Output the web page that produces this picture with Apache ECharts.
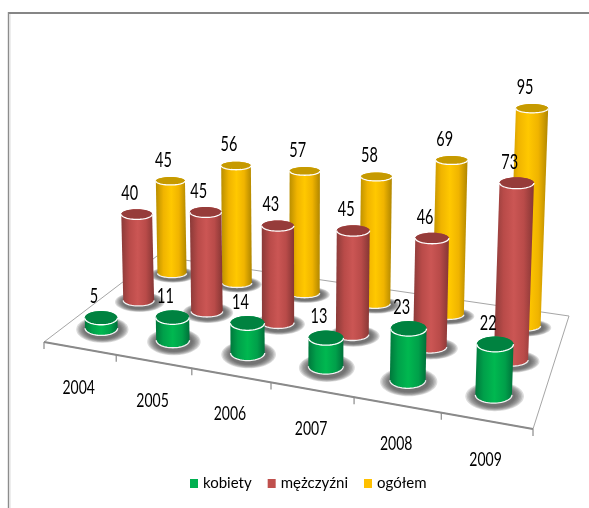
<!DOCTYPE html>
<html><head><meta charset="utf-8">
<style>html,body{margin:0;padding:0;background:#fff}#c{width:589px;height:508px}</style>
<script src="https://cdn.jsdelivr.net/npm/echarts@6/dist/echarts.min.js"></script>
</head><body><div id="c"></div>
<script>
const years = ['2004','2005','2006','2007','2008','2009'];
const kobiety = [5,11,14,13,23,22];
const mezczyzni = [40,45,43,45,46,73];
const ogolem = [45,56,57,58,69,95];

const FONT = 'Lato,"Open Sans",sans-serif';
const P0=[44,342],P1=[533,429],P2=[569,316],P3=[157,256];
const GRID={left:44,top:100,width:489,height:243.6};
const sx=P0[0]-P1[0]+P2[0]-P3[0], sy=P0[1]-P1[1]+P2[1]-P3[1];
const dx1=P1[0]-P2[0],dx2=P3[0]-P2[0],dy1=P1[1]-P2[1],dy2=P3[1]-P2[1];
const den=dx1*dy2-dx2*dy1;
const G=(sx*dy2-dx2*sy)/den,H=(dx1*sy-sx*dy1)/den;
function proj(u,v){
  const w=1+G*u+H*v;
  return {x:(P0[0]+(P1[0]*(1+G)-P0[0])*u+(P3[0]*(1+H)-P0[0])*v)/w,
          y:(P0[1]+(P1[1]*(1+G)-P0[1])*u+(P3[1]*(1+H)-P0[1])*v)/w,s:1/w};
}
function arc(cx,cy,rx,ry,a0,a1){
  const pts=[];const n=28;
  for(let i=0;i<=n;i++){const a=a0+(a1-a0)*i/n;pts.push([cx+rx*Math.cos(a),cy+ry*Math.sin(a)]);}
  return pts;
}
function stops(a){return a.map(s=>({offset:s[0],color:s[1]}));}
const SHADOW_STEPS=[1.6,1.52,1.44,1.36,1.28,1.2,1.12];
const SHADES={
  green:{side:[[0,'#00783c'],[.22,'#00a04a'],[.5,'#00b850'],[.78,'#00a04a'],[1,'#00703a']],top:'#008240'},
  red:{side:[[0,'#8a3a38'],[.25,'#b94b49'],[.5,'#cb5654'],[.75,'#b94b49'],[1,'#853634']],top:'#963c3a'},
  yellow:{side:[[0,'#b98e00'],[.25,'#f0b400'],[.5,'#ffc800'],[.75,'#f0b400'],[1,'#b08600']],top:'#c69a00'}
};
function cylinder(depth,ratio,shade,hf,dx){
  return function(params,api){
    const c=api.coord([api.value(0),0]);
    const val=api.value(1);
    const u=(c[0]-GRID.left)/GRID.width;
    const p=proj(u,depth);
    const rx=16.8*p.s;
    const ryT=rx*ratio, ryB=rx*(ratio+0.03);
    const h=api.size([0,val])[1]*Math.pow(p.s,1.1)*hf;
    const bx=p.x+dx,by=p.y;
    const tx=bx+(bx-291)*0.00015*h, ty=by-h;
    const bottom=arc(bx,by,rx,ryB,0,Math.PI);
    const top=arc(tx,ty,rx,ryT,Math.PI,2*Math.PI);
    const sh=SHADES[shade];
    const shadow=SHADOW_STEPS.map(t=>({type:'ellipse',shape:{cx:bx+1,cy:by+1.5,rx:rx*t,ry:ryB*(t+.2)},
       style:{fill:'rgba(80,80,80,.2)'}}));
    return {type:'group',children:shadow.concat([
      {type:'polygon',shape:{points:bottom.concat(top)},
       style:{fill:{type:'linear',x:0,y:0,x2:1,y2:0,colorStops:stops(sh.side)}}},
      {type:'polyline',shape:{points:bottom},style:{fill:null,stroke:'#f2f2f2',lineWidth:1.3}},
      {type:'ellipse',shape:{cx:tx,cy:ty,rx:rx,ry:ryT},style:{fill:sh.top}},
      {type:'polyline',shape:{points:arc(tx,ty,rx,ryT,0,Math.PI)},style:{fill:null,stroke:'#fff',lineWidth:1.3}},
      {type:'text',x:tx-7,y:ty-21,scaleY:1.4,style:{x:0,y:0,text:String(val),fill:'#000',font:'14.5px '+FONT,align:'center',verticalAlign:'middle'}}
    ])};
  };
}
function floorItem(params,api){
  const i=api.value(0);
  const kids=[];
  if(i===0){
    kids.push({type:'polygon',shape:{points:[P0,P1,P2,P3]},style:{fill:'#fff',stroke:'#a6a6a6',lineWidth:1}});
    kids.push({type:'line',shape:{x1:P0[0],y1:P0[1],x2:P1[0],y2:P1[1]},style:{stroke:'#8a8a8a',lineWidth:2}});
    kids.push({type:'line',shape:{x1:P0[0],y1:P0[1],x2:P0[0],y2:P0[1]+7},style:{stroke:'#8a8a8a',lineWidth:1.2}});
  }
  const c=api.coord([i,0]);
  const u=(c[0]-GRID.left)/GRID.width;
  const b=proj(u+api.size([1,0])[0]/GRID.width/2,0);
  kids.push({type:'line',shape:{x1:b.x,y1:b.y,x2:b.x,y2:b.y+7},style:{stroke:'#8a8a8a',lineWidth:1.2}});
  const m=proj(u,0);
  kids.push({type:'text',x:m.x-1,y:m.y+39,scaleY:1.38,style:{x:0,y:0,text:years[i],fill:'#000',font:'14px '+FONT,align:'center',verticalAlign:'middle'}});
  return {type:'group',children:kids};
}
const rows=a=>a.map((v,i)=>[i,v]);
const chart=echarts.init(document.getElementById('c'));
chart.setOption({
  animation:false,
  backgroundColor:'#fff',
  grid:GRID,
  xAxis:{type:'category',data:years,show:false},
  yAxis:{type:'value',min:0,max:100,show:false},
  legend:{data:['kobiety','mężczyźni','ogółem'],left:185,top:471,itemWidth:8,itemHeight:9,itemGap:16,icon:'rect',
    textStyle:{fontFamily:FONT,fontSize:15,color:'#000'}},
  graphic:[
    {type:'line',shape:{x1:8,y1:13,x2:589,y2:13},style:{stroke:'#868686',lineWidth:2}},
    {type:'line',shape:{x1:8.5,y1:12,x2:8.5,y2:508},style:{stroke:'#8c8c8c',lineWidth:1.4}},
    {type:'line',shape:{x1:10,y1:14,x2:10,y2:508},style:{stroke:'#dcdcdc',lineWidth:1}}
  ],
  series:[
    {name:'floor',type:'custom',renderItem:floorItem,data:rows(years.map(()=>0)),encode:{x:0,y:1},silent:true,z:1},
    {name:'ogółem',type:'custom',renderItem:cylinder(.83,.27,'yellow',.985,0),data:rows(ogolem),encode:{x:0,y:1},itemStyle:{color:'#ffc000'},silent:true,z:2},
    {name:'mężczyźni',type:'custom',renderItem:cylinder(.5,.33,'red',.97,0),data:rows(mezczyzni),encode:{x:0,y:1},itemStyle:{color:'#c0504d'},silent:true,z:3},
    {name:'kobiety',type:'custom',renderItem:cylinder(.2,.42,'green',.86,-3.3),data:rows(kobiety),encode:{x:0,y:1},itemStyle:{color:'#00b050'},silent:true,z:4}
  ]
});
</script>
</body></html>
